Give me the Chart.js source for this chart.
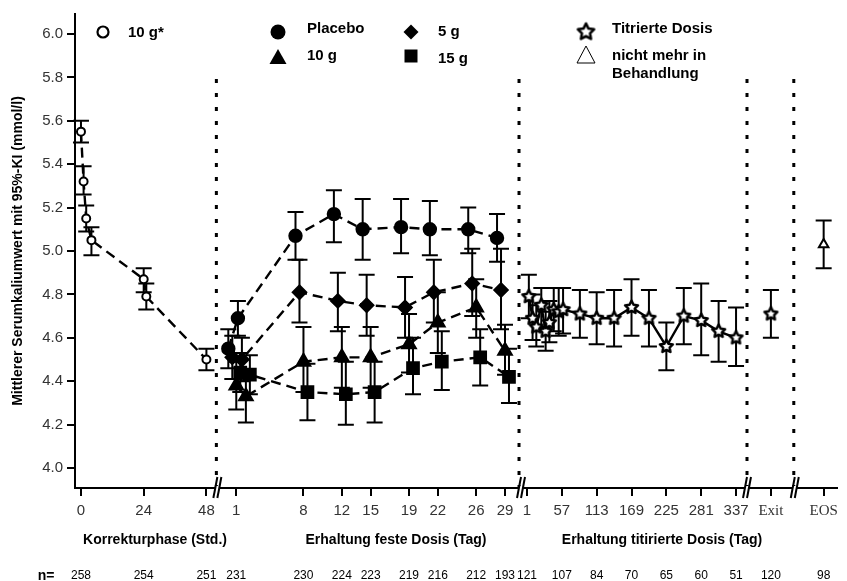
<!DOCTYPE html>
<html>
<head>
<meta charset="utf-8">
<script src="https://cdn.jsdelivr.net/npm/chart.js@4.4.0/dist/chart.umd.min.js"></script>
<style>
  html, body { margin: 0; padding: 0; background: #fff; }
</style>
</head>
<body>
<canvas id="chart" width="847" height="581"></canvas>
<script>
// Korrekturphase, 10 g* (hours)
const korrHours = [0, 1, 2, 4, 24, 25, 48];
const korrMean = [5.55, 5.32, 5.15, 5.05, 4.87, 4.79, 4.50];
const korrLo   = [5.50, 5.26, 5.09, 4.98, 4.81, 4.73, 4.45];
const korrHi   = [5.60, 5.39, 5.21, 5.11, 4.92, 4.85, 4.55];

// Erhaltung feste Dosis (days)
const festDays = [1, 2, 8, 12, 15, 19, 22, 26, 29];
const placeboMean = [4.55, 4.69, 5.07, 5.17, 5.10, 5.11, 5.10, 5.10, 5.06];
const placeboLo   = [4.46, 4.61, 4.96, 5.04, 4.96, 4.99, 4.98, 4.99, 4.95];
const placeboHi   = [4.64, 4.77, 5.18, 5.28, 5.24, 5.24, 5.23, 5.20, 5.17];
const g5Mean = [4.51, 4.50, 4.81, 4.77, 4.75, 4.74, 4.81, 4.85, 4.82];
const g5Lo   = [4.41, 4.40, 4.67, 4.63, 4.61, 4.60, 4.67, 4.70, 4.64];
const g5Hi   = [4.61, 4.60, 4.96, 4.90, 4.89, 4.88, 4.96, 5.01, 5.01];
const g10Mean = [4.38, 4.33, 4.49, 4.51, 4.51, 4.57, 4.67, 4.74, 4.54];
const g10Lo   = [4.27, 4.21, 4.35, 4.37, 4.37, 4.44, 4.53, 4.60, 4.43];
const g10Hi   = [4.49, 4.45, 4.65, 4.65, 4.65, 4.71, 4.81, 4.87, 4.66];
const g15Mean = [4.44, 4.43, 4.35, 4.34, 4.35, 4.46, 4.49, 4.51, 4.42];
const g15Lo   = [4.35, 4.34, 4.22, 4.20, 4.21, 4.34, 4.36, 4.38, 4.30];
const g15Hi   = [4.53, 4.52, 4.48, 4.49, 4.49, 4.60, 4.63, 4.64, 4.55];

// Erhaltung titrierte Dosis (days)
const titDays = [4, 10, 16, 24, 31, 37, 44, 52, 59, 86, 113, 141, 169, 197, 225, 253, 281, 309, 337];
const titMean = [4.79, 4.69, 4.65, 4.75, 4.63, 4.67, 4.73, 4.72, 4.73, 4.71, 4.69, 4.69, 4.74, 4.69, 4.56, 4.70, 4.68, 4.63, 4.60];
const titLo   = [4.69, 4.59, 4.56, 4.65, 4.54, 4.58, 4.63, 4.61, 4.62, 4.60, 4.57, 4.56, 4.61, 4.56, 4.45, 4.57, 4.52, 4.49, 4.47];
const titHi   = [4.89, 4.80, 4.75, 4.83, 4.72, 4.77, 4.83, 4.83, 4.83, 4.82, 4.81, 4.82, 4.87, 4.82, 4.67, 4.83, 4.85, 4.77, 4.74];

// Exit (Titrierte Dosis) and EOS (nicht mehr in Behandlung)
const exitVal = [4.71, 4.60, 4.82];   // mean, lo, hi
const eosVal  = [5.03, 4.92, 5.14];

// tick labels and n per tick
const korrTicks = [0, 24, 48];
const festTicks = [1, 8, 12, 15, 19, 22, 26, 29];
const titTicks = [1, 57, 113, 169, 225, 281, 337];
const endTicks = ['Exit', 'EOS'];
const nCounts = [258, 254, 251, 231, 230, 224, 223, 219, 216, 212, 193, 121, 107, 84, 70, 65, 60, 51, 120, 98];
const yTicks = [4.0, 4.2, 4.4, 4.6, 4.8, 5.0, 5.2, 5.4, 5.6, 5.8, 6.0];

// broken x axis: each phase has its own start and scale
const phases = {
  korr: { start: 6, per: 2.625, first: 0 },
  fest: { start: 162, per: 9.64, first: 1 },
  tit:  { start: 454, per: 0.625, first: 1 }
};
const endPos = { Exit: 699, EOS: 752 };
const breaks = [143, 448, 675, 723];
const dotted = [142, 446, 675, 722];

function pos(phase, t) {
  const p = phases[phase];
  return p.start + (t - p.first) * p.per;
}

function pts(phase, times, mean, lo, hi, dodge) {
  return times.map((t, i) => ({ x: pos(phase, t) + (dodge || 0), y: mean[i], lo: lo[i], hi: hi[i] }));
}

const tickPos = [
  ...korrTicks.map(t => pos('korr', t)),
  ...festTicks.map(t => pos('fest', t)),
  ...titTicks.map(t => pos('tit', t)),
  ...endTicks.map(k => endPos[k])
];
const tickLabels = [...korrTicks, ...festTicks, ...titTicks, ...endTicks].map(String);

function makeStar(r, lw) {
  const s = Math.ceil(2 * r + 2 * lw + 2);
  const c = document.createElement('canvas');
  c.width = s; c.height = s;
  const g = c.getContext('2d');
  g.translate(s / 2, s / 2);
  g.beginPath();
  for (let i = 0; i < 10; i++) {
    const rr = i % 2 ? r * 0.5 : r;
    const a = -Math.PI / 2 + i * Math.PI / 5;
    g.lineTo(rr * Math.cos(a), rr * Math.sin(a));
  }
  g.closePath();
  g.fillStyle = '#fff';
  g.fill();
  g.lineWidth = lw;
  g.lineJoin = 'round';
  g.strokeStyle = '#000';
  g.stroke();
  return c;
}
const starSmall = makeStar(6.8, 2.5);

Chart.defaults.font.family = '"Liberation Sans", Arial, sans-serif';

const dash = [10, 6];
const base = { showLine: true, tension: 0, borderColor: '#000', borderWidth: 2.4, pointBorderColor: '#000' };

const errorBars = {
  id: 'errorBars',
  beforeDatasetsDraw(chart) {
    const { ctx, scales: { x, y } } = chart;
    ctx.save();
    ctx.strokeStyle = '#000';
    ctx.lineWidth = 2;
    chart.data.datasets.forEach(ds => {
      ds.data.forEach(p => {
        const px = x.getPixelForValue(p.x);
        const top = y.getPixelForValue(p.hi);
        const bot = y.getPixelForValue(p.lo);
        ctx.beginPath();
        ctx.moveTo(px, top); ctx.lineTo(px, bot);
        ctx.moveTo(px - 8, top); ctx.lineTo(px + 8, top);
        ctx.moveTo(px - 8, bot); ctx.lineTo(px + 8, bot);
        ctx.stroke();
      });
    });
    // dotted phase separators
    ctx.lineWidth = 3;
    ctx.setLineDash([4, 10]);
    dotted.forEach(v => {
      const px = x.getPixelForValue(v);
      ctx.beginPath();
      ctx.moveTo(px, 79);
      ctx.lineTo(px, chart.chartArea.bottom);
      ctx.stroke();
    });
    ctx.restore();
  },
  afterDraw(chart) {
    const { ctx, scales: { x } } = chart;
    const bottom = chart.chartArea.bottom;
    ctx.save();
    // axis breaks
    ctx.strokeStyle = '#000';
    ctx.lineWidth = 2;
    breaks.forEach(v => {
      const px = x.getPixelForValue(v);
      ctx.fillStyle = '#fff';
      ctx.fillRect(px - 2, bottom - 2, 4, 4);
      [-2, 2].forEach(o => {
        ctx.beginPath();
        ctx.moveTo(px + o - 2, bottom + 10);
        ctx.lineTo(px + o + 2, bottom - 11);
        ctx.stroke();
      });
    });

    // phase titles
    ctx.fillStyle = '#000';
    ctx.textAlign = 'center';
    ctx.textBaseline = 'middle';
    ctx.font = 'bold 14px "Liberation Sans", Arial, sans-serif';
    ctx.fillText('Korrekturphase (Std.)', 155, 540);
    ctx.fillText('Erhaltung feste Dosis (Tag)', 396, 540);
    ctx.fillText('Erhaltung titirierte Dosis (Tag)', 662, 540);

    // n row
    ctx.fillText('n=', 46, 576);
    ctx.font = '12px "Liberation Sans", Arial, sans-serif';
    tickPos.forEach((v, i) => ctx.fillText(String(nCounts[i]), x.getPixelForValue(v), 576));

    // legend
    ctx.textAlign = 'left';
    ctx.font = 'bold 15px "Liberation Sans", Arial, sans-serif';
    const items = [
      ['ocircle', 103, 32, '10 g*', 128, 33],
      ['circle', 278, 32, 'Placebo', 307, 29],
      ['triangle', 278, 57, '10 g', 307, 56],
      ['diamond', 411, 32, '5 g', 438, 32],
      ['square', 411, 56, '15 g', 438, 59],
      ['star', 586, 32, 'Titrierte Dosis', 612, 29],
      ['otriangle', 586, 55, 'nicht mehr in', 612, 56]
    ];
    items.forEach(([shape, sx, sy, label, tx, ty]) => {
      ctx.beginPath();
      ctx.fillStyle = '#000';
      ctx.strokeStyle = '#000';
      if (shape === 'ocircle') {
        ctx.arc(sx, sy, 5.5, 0, Math.PI * 2);
        ctx.fillStyle = '#fff'; ctx.fill();
        ctx.lineWidth = 2.2; ctx.stroke();
      } else if (shape === 'circle') {
        ctx.arc(sx, sy, 7.5, 0, Math.PI * 2); ctx.fill();
      } else if (shape === 'triangle') {
        ctx.moveTo(sx, sy - 8); ctx.lineTo(sx + 8.5, sy + 7); ctx.lineTo(sx - 8.5, sy + 7);
        ctx.closePath(); ctx.fill();
      } else if (shape === 'diamond') {
        ctx.moveTo(sx, sy - 7.5); ctx.lineTo(sx + 7.5, sy); ctx.lineTo(sx, sy + 7.5); ctx.lineTo(sx - 7.5, sy);
        ctx.closePath(); ctx.fill();
      } else if (shape === 'square') {
        ctx.rect(sx - 6.5, sy - 6.5, 13, 13); ctx.fill();
      } else if (shape === 'star') {
        const big = makeStar(8.5, 2.6);
        ctx.drawImage(big, sx - big.width / 2, sy - big.height / 2);
      } else if (shape === 'otriangle') {
        ctx.moveTo(sx, sy - 9); ctx.lineTo(sx + 9, sy + 8); ctx.lineTo(sx - 9, sy + 8);
        ctx.closePath(); ctx.fillStyle = '#fff'; ctx.fill();
        ctx.lineWidth = 1; ctx.stroke();
      }
      ctx.fillStyle = '#000';
      ctx.fillText(label, tx, ty);
    });
    ctx.fillText('Behandlung', 612, 74);
    ctx.restore();
  }
};

new Chart(document.getElementById('chart'), {
  type: 'scatter',
  data: {
    datasets: [
      { ...base, label: '10 g*', data: pts('korr', korrHours, korrMean, korrLo, korrHi),
        borderDash: dash, pointStyle: 'circle', pointRadius: 4, pointBorderWidth: 2, pointBackgroundColor: '#fff' },
      { ...base, label: 'Placebo', data: pts('fest', festDays, placeboMean, placeboLo, placeboHi, -8),
        borderDash: dash, pointStyle: 'circle', pointRadius: 6, pointBackgroundColor: '#000' },
      { ...base, label: '5 g', data: pts('fest', festDays, g5Mean, g5Lo, g5Hi, -4),
        borderDash: dash, pointStyle: 'rectRot', pointRadius: 6.5, pointBackgroundColor: '#000' },
      { ...base, label: '10 g', data: pts('fest', festDays, g10Mean, g10Lo, g10Hi, 0),
        borderDash: dash, pointStyle: 'triangle', pointRadius: 7.5, pointBackgroundColor: '#000' },
      { ...base, label: '15 g', data: pts('fest', festDays, g15Mean, g15Lo, g15Hi, 4),
        borderDash: dash, pointStyle: 'rect', pointRadius: 8, pointBackgroundColor: '#000' },
      { ...base, label: 'Titrierte Dosis', data: pts('tit', titDays, titMean, titLo, titHi),
        pointStyle: starSmall },
      { ...base, showLine: false, label: 'Exit',
        data: [{ x: endPos.Exit, y: exitVal[0], lo: exitVal[1], hi: exitVal[2] }], pointStyle: starSmall },
      { ...base, showLine: false, label: 'EOS',
        data: [{ x: endPos.EOS, y: eosVal[0], lo: eosVal[1], hi: eosVal[2] }],
        pointStyle: 'triangle', pointRadius: 5.5, pointBorderWidth: 2, pointBackgroundColor: '#fff' }
    ]
  },
  options: {
    responsive: false,
    animation: false,
    devicePixelRatio: 1,
    layout: { padding: { left: 0, right: 7, top: 14, bottom: 0 } },
    plugins: { legend: { display: false }, tooltip: { enabled: false } },
    scales: {
      x: {
        type: 'linear',
        min: 0,
        max: 765,
        afterFit: s => { s.height = 93; },
        afterBuildTicks: s => { s.ticks = tickPos.map(v => ({ value: v })); },
        ticks: {
          autoSkip: false,
          maxRotation: 0,
          padding: 6,
          color: '#333',
          callback: (v, i) => tickLabels[i],
          font: c => c.index >= tickPos.length - 2
            ? { family: '"Liberation Serif", "Times New Roman", serif', size: 15 }
            : { size: 15 }
        },
        grid: { drawOnChartArea: false, tickLength: 8, color: '#000', lineWidth: 2 },
        border: { color: '#000', width: 2 }
      },
      y: {
        min: 3.908,
        max: 6.092,
        afterFit: s => { s.width = 75; },
        afterBuildTicks: s => { s.ticks = yTicks.map(v => ({ value: v })); },
        ticks: { padding: 4, color: '#333', font: { size: 15 }, callback: v => v.toFixed(1) },
        grid: { drawOnChartArea: false, tickLength: 8, color: '#000', lineWidth: 2 },
        border: { color: '#000', width: 2 },
        title: {
          display: true,
          text: 'Mittlerer Serumkaliumwert mit 95%-KI (mmol/l)',
          color: '#000',
          font: { size: 14, weight: 'bold' },
          padding: { top: 10, bottom: 0 }
        }
      }
    }
  },
  plugins: [errorBars]
});
</script>
</body>
</html>
